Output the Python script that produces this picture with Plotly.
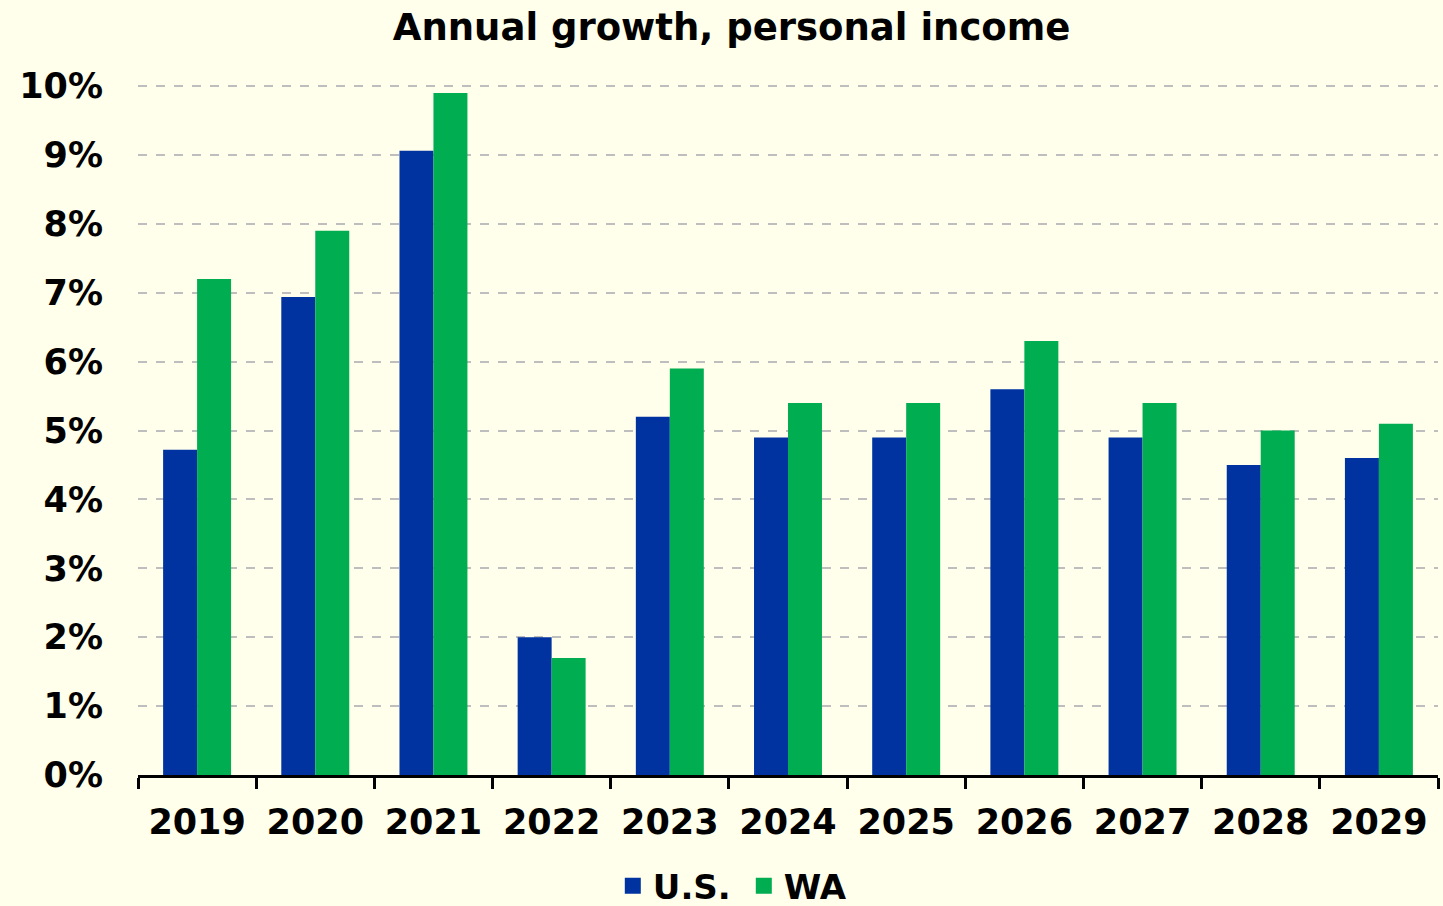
import plotly.graph_objects as go

years = ["2019", "2020", "2021", "2022", "2023", "2024", "2025", "2026", "2027", "2028", "2029"]
us = [4.72, 6.94, 9.06, 2.0, 5.2, 4.9, 4.9, 5.6, 4.9, 4.5, 4.6]
wa = [7.2, 7.9, 9.9, 1.7, 5.9, 5.4, 5.4, 6.3, 5.4, 5.0, 5.1]
series_names = ["U.S.", "WA"]
series_colors = ["#0033A0", "#00AD50"]
y_ticks = list(range(0, 11))
y_labels = [f"{v}%" for v in y_ticks]

FONT = "Verdana, DejaVu Sans, sans-serif"
BG = "#FFFFEB"
FS = 35

fig = go.Figure()
for name, vals, col in zip(series_names, [us, wa], series_colors):
    fig.add_trace(go.Bar(x=years, y=vals, name=name, showlegend=False,
                         marker=dict(color=col, line=dict(width=0))))
# legend entries with larger square swatches
for name, col in zip(series_names, series_colors):
    fig.add_trace(go.Scatter(x=[None], y=[None], mode="markers", name=f"<b>{name}</b>",
                             marker=dict(symbol="square", size=19, color=col)))

fig.update_layout(
    width=1443, height=906,
    paper_bgcolor=BG, plot_bgcolor=BG,
    barmode="group", bargap=0.425, bargroupgap=0,
    margin=dict(l=138, r=5, t=84, b=131, autoexpand=False),
    font=dict(family=FONT, color="black", size=FS),
    title=dict(text="<b>Annual growth, personal income</b>", x=0.507, xanchor="center",
               y=0.970, yanchor="middle", font=dict(size=37, family=FONT)),
    legend=dict(orientation="h", x=0.466, xanchor="center", y=0.022, yref="container",
                yanchor="middle", entrywidth=86, entrywidthmode="pixels",
                font=dict(size=34, family=FONT), itemwidth=30, traceorder="normal",
                bgcolor="rgba(0,0,0,0)"),
    showlegend=True,
)
fig.update_xaxes(
    type="category", tickson="boundaries", ticks="outside", ticklen=11, tickwidth=3,
    tickcolor="black", showline=True, linecolor="black", linewidth=3,
    showgrid=False, tickfont=dict(size=FS, family=FONT),
    tickprefix="<b>", ticksuffix="</b>", ticklabelstandoff=14,
)
fig.update_yaxes(
    range=[0, 10.03], tickvals=y_ticks, ticktext=[f"<b>{t}</b>" for t in y_labels],
    showgrid=True, gridcolor="#BEBEBE", griddash="dash", gridwidth=1.5,
    zeroline=False, showline=False, ticks="", ticklabelstandoff=34,
    tickfont=dict(size=FS, family=FONT),
)
fig.write_html("out.html", config={"displayModeBar": False},
               post_script="document.body.style.margin='0';document.body.style.background='#FFFFEB';")
